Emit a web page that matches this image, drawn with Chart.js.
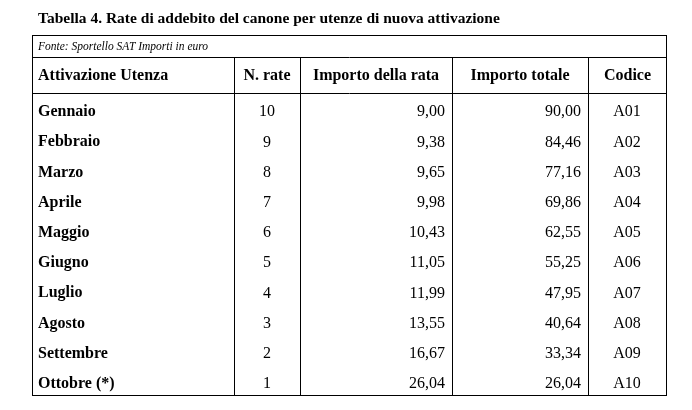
<!DOCTYPE html>
<html><head><meta charset="utf-8">
<script src="https://cdn.jsdelivr.net/npm/chart.js@4"></script>
<style>html,body{margin:0;padding:0;background:#fff}#c{display:block}</style>
</head><body>
<canvas id="c" width="692" height="410"></canvas>
<script>
const title = "Tabella 4. Rate di addebito del canone per utenze di nuova attivazione";
const source = "Fonte: Sportello SAT Importi in euro";
const headers = ["Attivazione Utenza","N. rate","Importo della rata","Importo totale","Codice"];
const months = ["Gennaio","Febbraio","Marzo","Aprile","Maggio","Giugno","Luglio","Agosto","Settembre","Ottobre (*)"];
const nRate = [10,9,8,7,6,5,4,3,2,1];
const importoRata = ["9,00","9,38","9,65","9,98","10,43","11,05","11,99","13,55","16,67","26,04"];
const importoTotale = ["90,00","84,46","77,16","69,86","62,55","55,25","47,95","40,64","33,34","26,04"];
const codici = ["A01","A02","A03","A04","A05","A06","A07","A08","A09","A10"];

const colEdges = [32,234,300,452,588,667];
const tablePlugin = {
  id:'table',
  afterDraw(chart){
    const ctx = chart.ctx, ys = chart.scales.y;
    const top=35, srcB=57, hdrB=93, bottom=395;
    ctx.save();
    ctx.fillStyle='#000';
    ctx.font='bold 15.5px "Liberation Serif"';
    ctx.textBaseline='middle';ctx.textAlign='left';
    ctx.fillText(title,38,19);
    ctx.strokeStyle='#000';ctx.lineWidth=1;
    ctx.strokeRect(32.5,top+0.5,634,bottom-top);
    const hl=(y)=>{ctx.beginPath();ctx.moveTo(32,y+0.5);ctx.lineTo(667,y+0.5);ctx.stroke();};
    hl(srcB);hl(hdrB);
    for(let i=1;i<colEdges.length-1;i++){ctx.beginPath();ctx.moveTo(colEdges[i]+0.5,srcB);ctx.lineTo(colEdges[i]+0.5,bottom);ctx.stroke();}
    ctx.font='italic 11.5px "Liberation Serif"';
    ctx.fillText(source,38,(top+srcB)/2+1);
    ctx.font='bold 16px "Liberation Serif"';
    const hy=(srcB+hdrB)/2+1;
    ctx.textAlign='left';ctx.fillText(headers[0],38,hy);
    ctx.textAlign='center';
    for(let i=1;i<5;i++) ctx.fillText(headers[i],(colEdges[i]+colEdges[i+1])/2,hy);
    months.forEach((m,i)=>{
      const y=ys.getPixelForValue(i)+4;
      ctx.font='bold 16px "Liberation Serif"';ctx.textAlign='left';ctx.fillText(m,38,y);
      ctx.font='16px "Liberation Serif"';
      ctx.textAlign='center';ctx.fillText(String(nRate[i]),267,y);
      ctx.textAlign='right';ctx.fillText(importoRata[i],445,y);ctx.fillText(importoTotale[i],581,y);
      ctx.textAlign='center';ctx.fillText(codici[i],627,y);
    });
    ctx.restore();
  }
};
new Chart(document.getElementById('c'),{
  type:'bar',
  data:{labels:months,datasets:[{data:months.map(()=>0),backgroundColor:'rgba(0,0,0,0)'}]},
  options:{responsive:false,animation:false,indexAxis:'y',
    layout:{padding:{left:32,right:25,top:93,bottom:15}},
    plugins:{legend:{display:false},tooltip:{enabled:false}},
    scales:{y:{display:false},x:{display:false}}},
  plugins:[tablePlugin]
});
</script></body></html>
